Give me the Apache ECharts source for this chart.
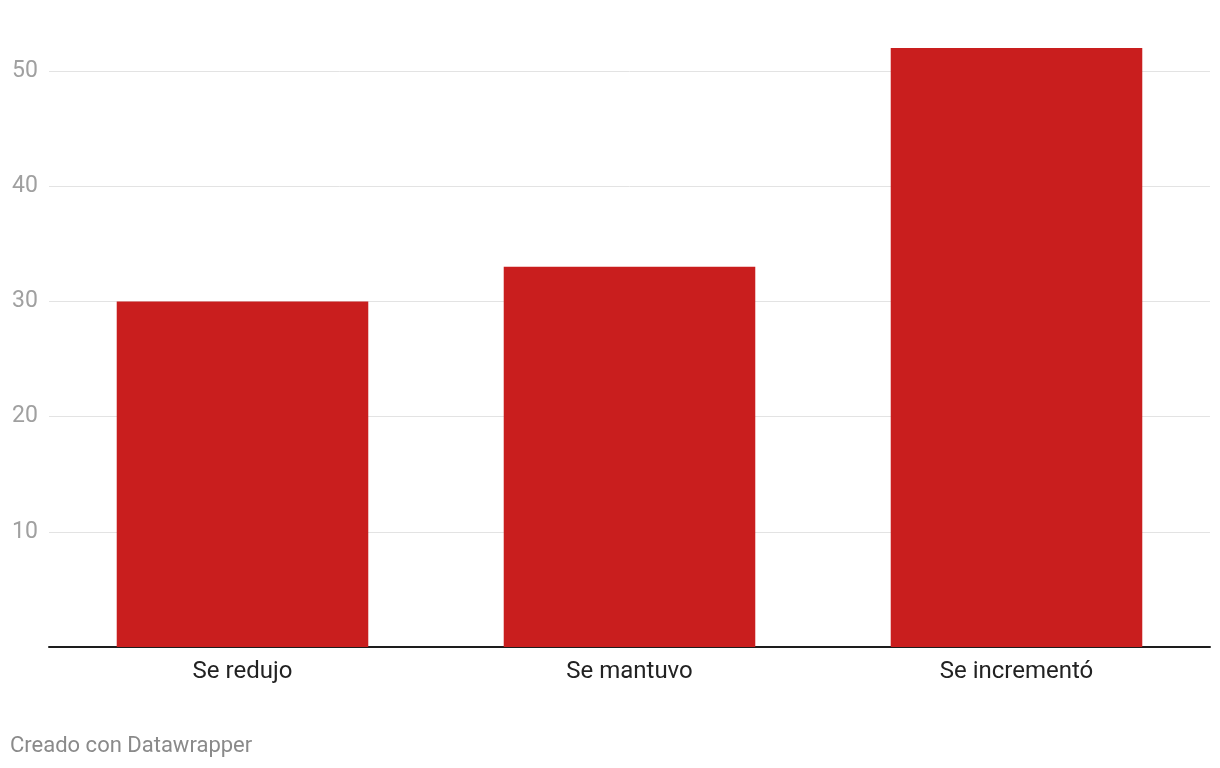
<!DOCTYPE html>
<html>
<head>
<meta charset="utf-8">
<script src="https://cdn.jsdelivr.net/npm/echarts@6/dist/echarts.min.js"></script>
<style>
html,body{margin:0;padding:0;background:#fff;}
#chart{width:1220px;height:768px;}
</style>
</head>
<body>
<div id="chart"></div>
<script>
const categories = ['Se redujo', 'Se mantuvo', 'Se incrementó'];
const values = [30, 33, 52];
const yTicks = [10, 20, 30, 40, 50];
const footer = 'Creado con Datawrapper';

const gridColors = ['#e3e3e3', '#e3e3e3', '#e3e3e3', '#e3e3e3', '#e3e3e3', '#e3e3e3', 'rgba(0,0,0,0)'];

const chart = echarts.init(document.getElementById('chart'), null, {renderer: 'canvas'});
chart.setOption({
  animation: false,
  backgroundColor: '#ffffff',
  textStyle: {fontFamily: 'Roboto'},
  graphic: [{
    type: 'text', left: 10, top: 735,
    style: {text: footer, fill: '#8a8a8a', fontSize: 22, fontFamily: 'Roboto'}
  }],
  grid: {left: 49, right: 10, top: 48, bottom: 121, containLabel: false},
  xAxis: {
    type: 'category',
    data: categories,
    axisLine: {show: true, lineStyle: {color: '#1d1d1d', width: 2}},
    axisTick: {show: false},
    axisLabel: {color: '#222', fontSize: 24, margin: 13, fontFamily: 'Roboto'}
  },
  yAxis: {
    type: 'value',
    min: 0, max: 52, interval: 10,
    axisLine: {show: false},
    axisTick: {show: false},
    splitLine: {lineStyle: {color: gridColors, width: 1}},
    axisLabel: {
      color: '#a0a0a0', fontSize: 23, align: 'left', margin: 37, fontFamily: 'Roboto',
      formatter: v => (yTicks.indexOf(v) >= 0 ? String(v) : '')
    }
  },
  series: [{
    type: 'bar',
    data: values,
    barWidth: '65%',
    itemStyle: {color: '#c91e1e'}
  }]
});
</script>
</body>
</html>
